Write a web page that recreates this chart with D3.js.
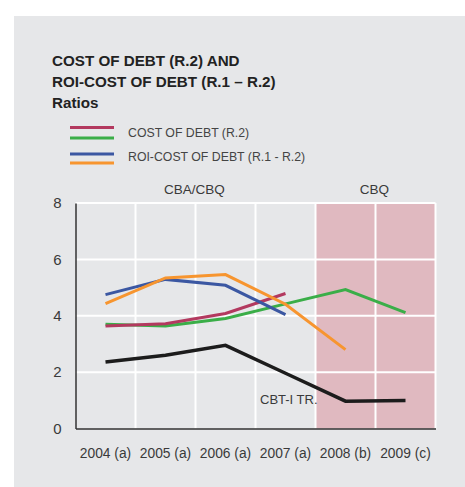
<!DOCTYPE html>
<html><head><meta charset="utf-8">
<script src="https://cdn.jsdelivr.net/npm/d3@7"></script>
<style>
html,body{margin:0;padding:0;background:#fff;}
svg{display:block;font-family:"Liberation Sans",Arial,sans-serif;}
</style></head>
<body>
<div id="chart"></div>
<script>
const categories = ["2004 (a)","2005 (a)","2006 (a)","2007 (a)","2008 (b)","2009 (c)"];
const yTicks = [0,2,4,6,8];
const costDebtCBA = [3.64,3.72,4.08,4.79,null,null];      // magenta
const costDebtCBQ = [3.70,3.64,3.90,4.42,4.93,4.11];      // green
const roiCostCBA  = [4.75,5.29,5.08,4.04,null,null];      // blue
const roiCostCBQ  = [4.43,5.34,5.46,4.41,2.80,null];      // orange
const cbtiTR      = [2.36,2.60,2.95,1.96,0.97,0.99];      // black
const shadedCats  = ["2008 (b)","2009 (c)"];
const periodLabels = [{text:"CBA/CBQ", from:"2004 (a)", to:"2007 (a)"},{text:"CBQ", from:"2008 (b)", to:"2009 (c)"}];

const W=465,H=487;
const svg=d3.select("#chart").append("svg").attr("width",W).attr("height",H);
svg.append("rect").attr("x",14).attr("y",16).attr("width",W-14).attr("height",H-16).attr("fill","#e6e7e9");

const x=d3.scaleBand().domain(categories).range([75.5,435.5]);
const y=d3.scaleLinear().domain([0,8]).range([428.5,203]);

// shaded
svg.append("rect").attr("x",x(shadedCats[0])).attr("y",y(8))
  .attr("width",x.bandwidth()*shadedCats.length).attr("height",y(0)-y(8)).attr("fill","#e0b9c0");

// grid
const g=svg.append("g");
g.selectAll(".hg").data(yTicks.filter(d=>d>0)).join("line")
  .attr("x1",75.5).attr("x2",435.5).attr("y1",d=>y(d)).attr("y2",d=>y(d))
  .attr("stroke","#fff").attr("stroke-width",2);
g.selectAll(".vg").data(categories.slice(1).concat(["end"])).join("line")
  .attr("x1",(d,i)=>75.5+(i+1)*x.bandwidth()).attr("x2",(d,i)=>75.5+(i+1)*x.bandwidth())
  .attr("y1",y(8)).attr("y2",y(0)).attr("stroke","#fff").attr("stroke-width",2);

// axes
const yAxis=d3.axisLeft(y).tickValues(yTicks).tickSize(0).tickPadding(14).tickFormat(d3.format("d"));
const ya=svg.append("g").attr("transform","translate(75.5,0)").call(yAxis);
ya.select(".domain").attr("stroke","#333").attr("stroke-width",1.5);
ya.selectAll("text").attr("font-size",15).attr("fill","#3a3a3a");
const xAxis=d3.axisBottom(x).tickSize(0).tickPadding(20);
const xa=svg.append("g").attr("transform",`translate(0,${y(0)})`).call(xAxis);
xa.select(".domain").attr("stroke","#333").attr("stroke-width",1.5);
xa.selectAll("text").attr("font-size",13.8).attr("fill","#3a3a3a");

// lines
const cx=c=>x(c)+x.bandwidth()/2;
const series=[
  {v:costDebtCBQ,c:"#3aae48",w:3},
  {v:costDebtCBA,c:"#b3395f",w:3},
  {v:roiCostCBA,c:"#3b57a2",w:3},
  {v:roiCostCBQ,c:"#f7952f",w:3},
  {v:cbtiTR,c:"#1c1c1c",w:3.5}
];
const line=d3.line().defined(d=>d[1]!=null).x(d=>cx(d[0])).y(d=>y(d[1]));
series.forEach(s=>{
  svg.append("path").datum(categories.map((c,i)=>[c,s.v[i]]))
    .attr("d",line).attr("fill","none").attr("stroke",s.c).attr("stroke-width",s.w)
    .attr("stroke-linejoin","miter");
});

// labels
svg.append("text").attr("x",260).attr("y",404).attr("font-size",13).attr("fill","#3a3a3a").text("CBT-I TR.");
periodLabels.forEach(p=>{
  const mid=(x(p.from)+x(p.to)+x.bandwidth())/2;
  svg.append("text").attr("x",mid-1).attr("y",194).attr("text-anchor","middle")
    .attr("font-size",13.5).attr("fill","#3a3a3a").text(p.text);
});

// title
const title=["COST OF DEBT (R.2) AND","ROI-COST OF DEBT (R.1 – R.2)","Ratios"];
title.forEach((t,i)=>svg.append("text").attr("x",52).attr("y",66+i*21)
  .attr("font-size",15.2).attr("font-weight","bold").attr("fill","#222").text(t));

// legend
const leg=[{cols:["#b3395f","#3aae48"],y:[127.5,138],label:"COST OF DEBT (R.2)",ty:137},
           {cols:["#3b57a2","#f7952f"],y:[154,163],label:"ROI-COST OF DEBT (R.1 - R.2)",ty:161}];
leg.forEach(l=>{
  l.cols.forEach((c,j)=>svg.append("line").attr("x1",70).attr("x2",114)
    .attr("y1",l.y[j]).attr("y2",l.y[j]).attr("stroke",c).attr("stroke-width",3));
  svg.append("text").attr("x",128).attr("y",l.ty).attr("font-size",12.3).attr("fill","#444").text(l.label);
});
</script>
</body></html>
